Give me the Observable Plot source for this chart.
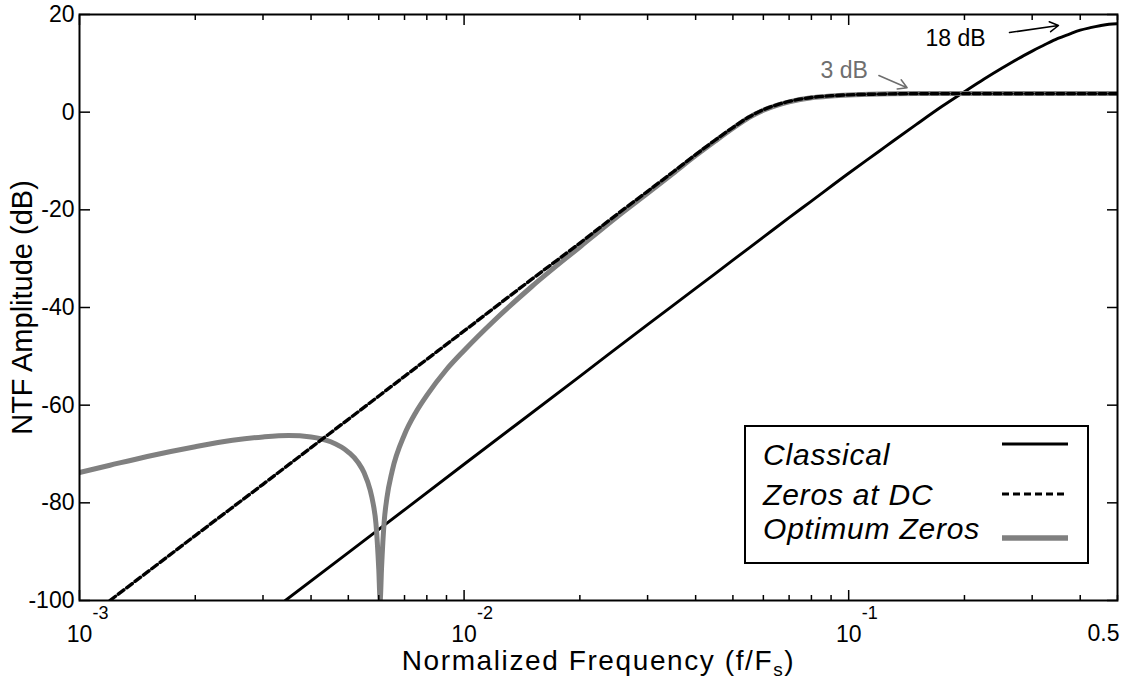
<!DOCTYPE html>
<html>
<head>
<meta charset="utf-8">
<script src="https://cdn.jsdelivr.net/npm/d3@7"></script>
<script src="https://cdn.jsdelivr.net/npm/@observablehq/plot@0.6"></script>
<style>
  html, body { margin: 0; padding: 0; background: #fff; }
  #wrap { position: relative; width: 1136px; height: 678px; font-family: "Liberation Sans", Arial, sans-serif; }
  #legend { position: absolute; left: 744px; top: 425px; }
</style>
</head>
<body>
<div id="wrap"></div>
<script>
// ---- data ----
const seriesNames = ["Classical", "Zeros at DC", "Optimum Zeros"];

const freqClassical = [0.00343, 0.005, 0.01, 0.02, 0.03, 0.04, 0.05, 0.06, 0.07, 0.08, 0.1, 0.12, 0.13, 0.15, 0.175, 0.2, 0.225, 0.25, 0.275, 0.3, 0.325, 0.35, 0.375, 0.4, 0.425, 0.45, 0.475, 0.5];
const dbClassical   = [-100.0, -90.2, -72.1, -54.1, -43.5, -36.1, -30.3, -25.6, -21.6, -18.2, -12.5, -8.0, -6.0, -2.5, 1.2, 4.2, 6.8, 9.0, 10.9, 12.5, 13.9, 15.1, 16.0, 16.8, 17.3, 17.7, 18.0, 18.1];

const freqZerosDC = [0.0012, 0.0015, 0.002, 0.003, 0.004, 0.005, 0.007, 0.01, 0.015, 0.02, 0.025, 0.03, 0.035, 0.04, 0.045, 0.05, 0.055, 0.06, 0.065, 0.07, 0.08, 0.09, 0.1, 0.12, 0.15, 0.2, 0.3, 0.5];
const dbZerosDC   = [-100.0, -94.2, -86.7, -76.2, -68.7, -62.9, -54.1, -44.8, -34.2, -26.8, -20.9, -16.2, -12.2, -8.7, -5.7, -3.15, -1.0, 0.5, 1.5, 2.2, 3.0, 3.35, 3.55, 3.7, 3.8, 3.8, 3.8, 3.8];

const freqOptimum = [0.001, 0.0012, 0.0015, 0.002, 0.0025, 0.003, 0.0035, 0.004, 0.0045, 0.005, 0.0053, 0.0055, 0.0057, 0.0058, 0.0059, 0.006, 0.00605, 0.0061, 0.0062, 0.0063, 0.0065, 0.007, 0.0075, 0.008, 0.009, 0.01, 0.012, 0.015, 0.02, 0.025, 0.03, 0.035, 0.04, 0.045, 0.05, 0.055, 0.06, 0.065, 0.07, 0.08, 0.09, 0.1, 0.12, 0.15, 0.2, 0.3, 0.5];
const dbOptimum   = [-73.8, -72.3, -70.5, -68.5, -67.2, -66.5, -66.2, -66.5, -67.5, -69.6, -71.7, -73.9, -77.4, -80.1, -84.3, -93.6, -100.0, -93.4, -83.7, -79.0, -73.5, -66.0, -61.4, -58.0, -52.7, -48.8, -42.6, -35.7, -27.6, -21.4, -16.6, -12.5, -8.9, -5.9, -3.3, -1.1, 0.4, 1.4, 2.1, 2.95, 3.3, 3.5, 3.7, 3.8, 3.8, 3.8, 3.8];

const yTicks = [20, 0, -20, -40, -60, -80, -100];
const xMajorTicks = [0.001, 0.01, 0.1];
const xTickExponents = ["-3", "-2", "-1"];
const xMinorTicks = [0.002, 0.003, 0.004, 0.005, 0.006, 0.007, 0.008, 0.009, 0.02, 0.03, 0.04, 0.05, 0.06, 0.07, 0.08, 0.09, 0.2, 0.3, 0.4, 0.5];
const xEndTicks = [0.5];
const xEndLabels = ["0.5"];

const xLabel = "Normalized Frequency (f/Fs)";
const yLabel = "NTF Amplitude (dB)";

const annotationTexts = ["18 dB", "3 dB"];
const annotationFreq  = [0.1584, 0.08445];
const annotationDb    = [13.65, 6.9];
const arrowFreqFrom = [0.2619, 0.1198];
const arrowDbFrom   = [16.3, 7.5];
const arrowFreqTo   = [0.3512, 0.1419];
const arrowDbTo     = [17.75, 5.0];

// ---- tables built from the arrays ----
const toRows = (fs, ds) => fs.map((f, i) => ({ f, db: ds[i] }));
const classical = toRows(freqClassical, dbClassical);
const zerosDC = toRows(freqZerosDC, dbZerosDC);
const optimum = toRows(freqOptimum, dbOptimum);
const annotations = annotationTexts.map((t, i) => ({ t, f: annotationFreq[i], db: annotationDb[i] }));
const arrows = arrowFreqFrom.map((f, i) => ({ f1: f, d1: arrowDbFrom[i], f2: arrowFreqTo[i], d2: arrowDbTo[i] }));

const FONT = '"Liberation Sans", Arial, Helvetica, sans-serif';
const GRAY_LINE = "#808080";
const GRAY_TEXT = "#6e6e6e";

const svg = Plot.plot({
  width: 1136,
  height: 678,
  marginLeft: 79,
  marginRight: 19,
  marginTop: 14,
  marginBottom: 78,
  style: { fontFamily: FONT, color: "black", background: "white", overflow: "visible" },
  x: { type: "log", domain: [0.001, 0.5] },
  y: { domain: [-100, 20] },
  marks: [
    Plot.line(classical, { x: "f", y: "db", stroke: "black", strokeWidth: 2.9, curve: "monotone-x", clip: true }),
    Plot.line(optimum, { x: "f", y: "db", stroke: GRAY_LINE, strokeWidth: 5, strokeLinecap: "round", strokeLinejoin: "round", curve: "monotone-x", clip: true }),
    Plot.line(zerosDC, { x: "f", y: "db", stroke: "black", strokeWidth: 3.4, strokeDasharray: "7,3.5", curve: "monotone-x", clip: true }),

    // inward ticks on all four sides
    Plot.axisX(xMajorTicks, { anchor: "bottom", tickSize: -10, fill: "none", strokeWidth: 1.5 }),
    Plot.axisX(xMinorTicks, { anchor: "bottom", tickSize: -5, fill: "none", strokeWidth: 1.5 }),
    Plot.axisX(xMajorTicks, { anchor: "top", tickSize: -10, fill: "none", strokeWidth: 1.5 }),
    Plot.axisX(xMinorTicks, { anchor: "top", tickSize: -5, fill: "none", strokeWidth: 1.5 }),
    Plot.axisY(yTicks, { anchor: "left", tickSize: -11, fill: "none", strokeWidth: 1.5 }),
    Plot.axisY(yTicks, { anchor: "right", tickSize: -11, fill: "none", strokeWidth: 1.5 }),
    Plot.axisY(yTicks, { anchor: "left", tickSize: 0, tickPadding: 5, fontSize: 23, tickFormat: d => String(d), label: null }),

    Plot.frame({ stroke: "black", strokeWidth: 2 }),

    // x tick labels: 10 with exponent
    Plot.text(xMajorTicks, { x: d => d, text: () => "10", frameAnchor: "bottom", dy: 41, lineAnchor: "bottom", fontSize: 23 }),
    Plot.text(xMajorTicks, { x: d => d, text: (d, i) => xTickExponents[i], frameAnchor: "bottom", dy: 18, dx: 13, textAnchor: "start", lineAnchor: "bottom", fontSize: 18 }),
    Plot.text(xEndTicks, { x: d => d, text: (d, i) => xEndLabels[i], frameAnchor: "bottom", dy: 40, dx: -14, lineAnchor: "bottom", fontSize: 23 }),

    // axis titles
    Plot.text([xLabel], { text: d => d, frameAnchor: "bottom", dy: 69, lineAnchor: "bottom", fontSize: 28 }),
    Plot.text([yLabel], { text: d => d, frameAnchor: "left", textAnchor: "middle", dx: -57, rotate: -90, lineAnchor: "middle", fontSize: 29 }),

    // annotations
    Plot.text(annotations.slice(0, 1), { x: "f", y: "db", text: "t", textAnchor: "start", lineAnchor: "bottom", fontSize: 23, fill: "black" }),
    Plot.text(annotations.slice(1), { x: "f", y: "db", text: "t", textAnchor: "start", lineAnchor: "bottom", fontSize: 23, fill: GRAY_TEXT }),
    Plot.arrow(arrows.slice(0, 1), { x1: "f1", y1: "d1", x2: "f2", y2: "d2", stroke: "black", strokeWidth: 1.5, headLength: 10 }),
    Plot.arrow(arrows.slice(1), { x1: "f1", y1: "d1", x2: "f2", y2: "d2", stroke: GRAY_TEXT, strokeWidth: 1.5, headLength: 10 })
  ]
});

// subscript s in the x-axis title, slightly wider spacing like the reference
for (const t of svg.querySelectorAll("text")) {
  if (t.textContent === xLabel) {
    while (t.firstChild) t.removeChild(t.firstChild);
    t.setAttribute("letter-spacing", "1.6");
    const ns = "http://www.w3.org/2000/svg";
    const a = document.createElementNS(ns, "tspan");
    a.textContent = "Normalized Frequency (f/F";
    const b = document.createElementNS(ns, "tspan");
    b.textContent = "s";
    b.setAttribute("font-size", "19");
    b.setAttribute("dy", "6");
    const c = document.createElementNS(ns, "tspan");
    c.textContent = ")";
    c.setAttribute("dy", "-6");
    t.append(a, b, c);
  }
}

const wrap = document.getElementById("wrap");
wrap.appendChild(svg);

// legend box inside the plot area
const legendColors = ["black", "black", GRAY_LINE];
const legendWidths = [3, 3, 5.5];
const legendDash = [null, "7,4", null];
const legendTextBaseline = [40, 80, 114];
const legendLineY = [19, 69, 113];

const lg = d3.select(wrap).append("svg")
  .attr("id", "legend")
  .attr("width", 346)
  .attr("height", 140);
lg.append("rect")
  .attr("x", 1).attr("y", 1).attr("width", 343).attr("height", 137)
  .attr("fill", "white").attr("stroke", "black").attr("stroke-width", 2);
seriesNames.forEach((name, i) => {
  lg.append("text")
    .attr("x", 19).attr("y", legendTextBaseline[i])
    .attr("font-family", FONT).attr("font-style", "italic").attr("font-size", 30)
    .attr("letter-spacing", "0.8")
    .attr("fill", "black")
    .text(name);
  const ln = lg.append("line")
    .attr("x1", 258).attr("x2", 324)
    .attr("y1", legendLineY[i]).attr("y2", legendLineY[i])
    .attr("stroke", legendColors[i]).attr("stroke-width", legendWidths[i]);
  if (legendDash[i]) ln.attr("stroke-dasharray", legendDash[i]);
});
</script>
</body>
</html>
